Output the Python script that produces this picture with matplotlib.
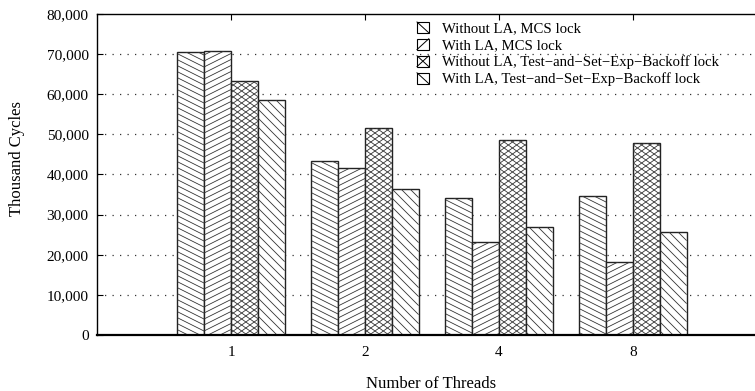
import numpy as np
import matplotlib
matplotlib.use('Agg')
import matplotlib.pyplot as plt
from matplotlib.collections import LineCollection
from matplotlib.legend_handler import HandlerBase
from matplotlib.lines import Line2D
from matplotlib.patches import Rectangle
from matplotlib.ticker import FuncFormatter, MultipleLocator

threads = ['1', '2', '4', '8']
series = ['Without LA, MCS lock',
          'With LA, MCS lock',
          'Without LA, Test\u2212and\u2212Set\u2212Exp\u2212Backoff lock',
          'With LA, Test\u2212and\u2212Set\u2212Exp\u2212Backoff lock']
no_la_mcs = [70600, 43400, 34050, 34550]
la_mcs = [70800, 41600, 23300, 18250]
no_la_tas = [63400, 51650, 48500, 47950]
la_tas = [58600, 36450, 27000, 25550]
values = [no_la_mcs, la_mcs, no_la_tas, la_tas]

# hatch styles: list of (slope in pixels, vertical spacing in pixels)
hatches = [[(-0.5, 6.0)], [(0.5, 6.0)], [(0.72, 6.0), (-0.72, 6.0)], [(-1.0, 9.0)]]
legend_keys = ['down', 'up', 'cross', 'down']

plt.rcParams['font.family'] = ['Liberation Serif', 'DejaVu Serif']
plt.rcParams['font.size'] = 10.5

fig = plt.figure(figsize=(7.55, 3.91), dpi=100)
ax = fig.add_axes([97 / 755, 56 / 391, 670 / 755, 321 / 391])

x = np.arange(1, len(threads) + 1)
w = 0.2
ax.set_xlim(0, 5)
ax.set_ylim(0, 80000)

containers = []
for i, vals in enumerate(values):
    bars = ax.bar(x + (i - 1.5) * w, vals, w, facecolor='white',
                  edgecolor='#222222', linewidth=1.0, zorder=2)
    containers.append(bars)


def hatch_bar(patch, slope, spacing):
    x0, y0 = patch.get_x(), patch.get_y()
    x1, y1 = x0 + patch.get_width(), y0 + patch.get_height()
    (px0, py0), (px1, py1) = ax.transData.transform([(x0, y0), (x1, y1)])
    lo = py0 - max(0, slope * px1, slope * px0)
    hi = py1 - min(0, slope * px1, slope * px0)
    segs = []
    for c in np.arange(np.floor(lo / spacing) - 1, np.ceil(hi / spacing) + 2) * spacing:
        pts = [(px0, slope * px0 + c), (px1, slope * px1 + c)]
        segs.append(ax.transData.inverted().transform(pts))
    lc = LineCollection(segs, colors='#333333', linewidths=0.6, zorder=2.5)
    ax.add_collection(lc)
    lc.set_clip_path(patch)


for bars, hs in zip(containers, hatches):
    for p in bars:
        for slope, spacing in hs:
            hatch_bar(p, slope, spacing)

ax.set_xticks(x)
ax.set_xticklabels(threads)
ax.yaxis.set_major_locator(MultipleLocator(10000))
ax.yaxis.set_major_formatter(FuncFormatter(lambda v, pos: f'{int(v):,}'))
ax.tick_params(axis='both', direction='in', length=4, width=0.8, labelsize=11)
ax.tick_params(axis='x', top=True, pad=8)
ax.tick_params(axis='y', pad=6)

for v in range(10000, 80000, 10000):
    ax.axhline(v, color='#333333', linestyle=(0, (1, 5)), linewidth=0.9, zorder=1)

ax.spines['right'].set_visible(False)
for s in ['left', 'top']:
    ax.spines[s].set_linewidth(1.0)
ax.spines['bottom'].set_linewidth(1.6)
ax.spines['bottom'].set_zorder(3)

ax.set_ylabel('Thousand Cycles', fontsize=12)
ax.yaxis.set_label_coords(-0.107, 0.551)
fig.text(431 / 755, 1 - 384 / 391, 'Number of Threads', ha='center', va='center',
         fontsize=12)


class Key:
    def __init__(self, kind):
        self.kind = kind


class KeyHandler(HandlerBase):
    def create_artists(self, legend, orig_handle, xdescent, ydescent, width, height,
                       fontsize, trans):
        x0, y0 = -xdescent, -ydescent
        x1, y1 = x0 + width, y0 + height
        arts = [Rectangle((x0, y0), width, height, facecolor='white',
                          edgecolor='black', linewidth=0.8, transform=trans)]
        if orig_handle.kind in ('down', 'cross'):
            arts.append(Line2D([x0, x1], [y1, y0], color='black', linewidth=0.7,
                               transform=trans))
        if orig_handle.kind in ('up', 'cross'):
            arts.append(Line2D([x0, x1], [y0, y1], color='black', linewidth=0.7,
                               transform=trans))
        return arts


handles = [Key(k) for k in legend_keys]
fig.legend(handles, series, loc='upper left', bbox_to_anchor=(417 / 755, 1 - 22 / 391),
           handler_map={Key: KeyHandler()},
           frameon=False, handlelength=0.8, handleheight=0.75, handletextpad=0.9,
           labelspacing=0.22, borderpad=0.0, borderaxespad=0.0, fontsize=10.6)

fig.savefig('out.png', dpi=100)
